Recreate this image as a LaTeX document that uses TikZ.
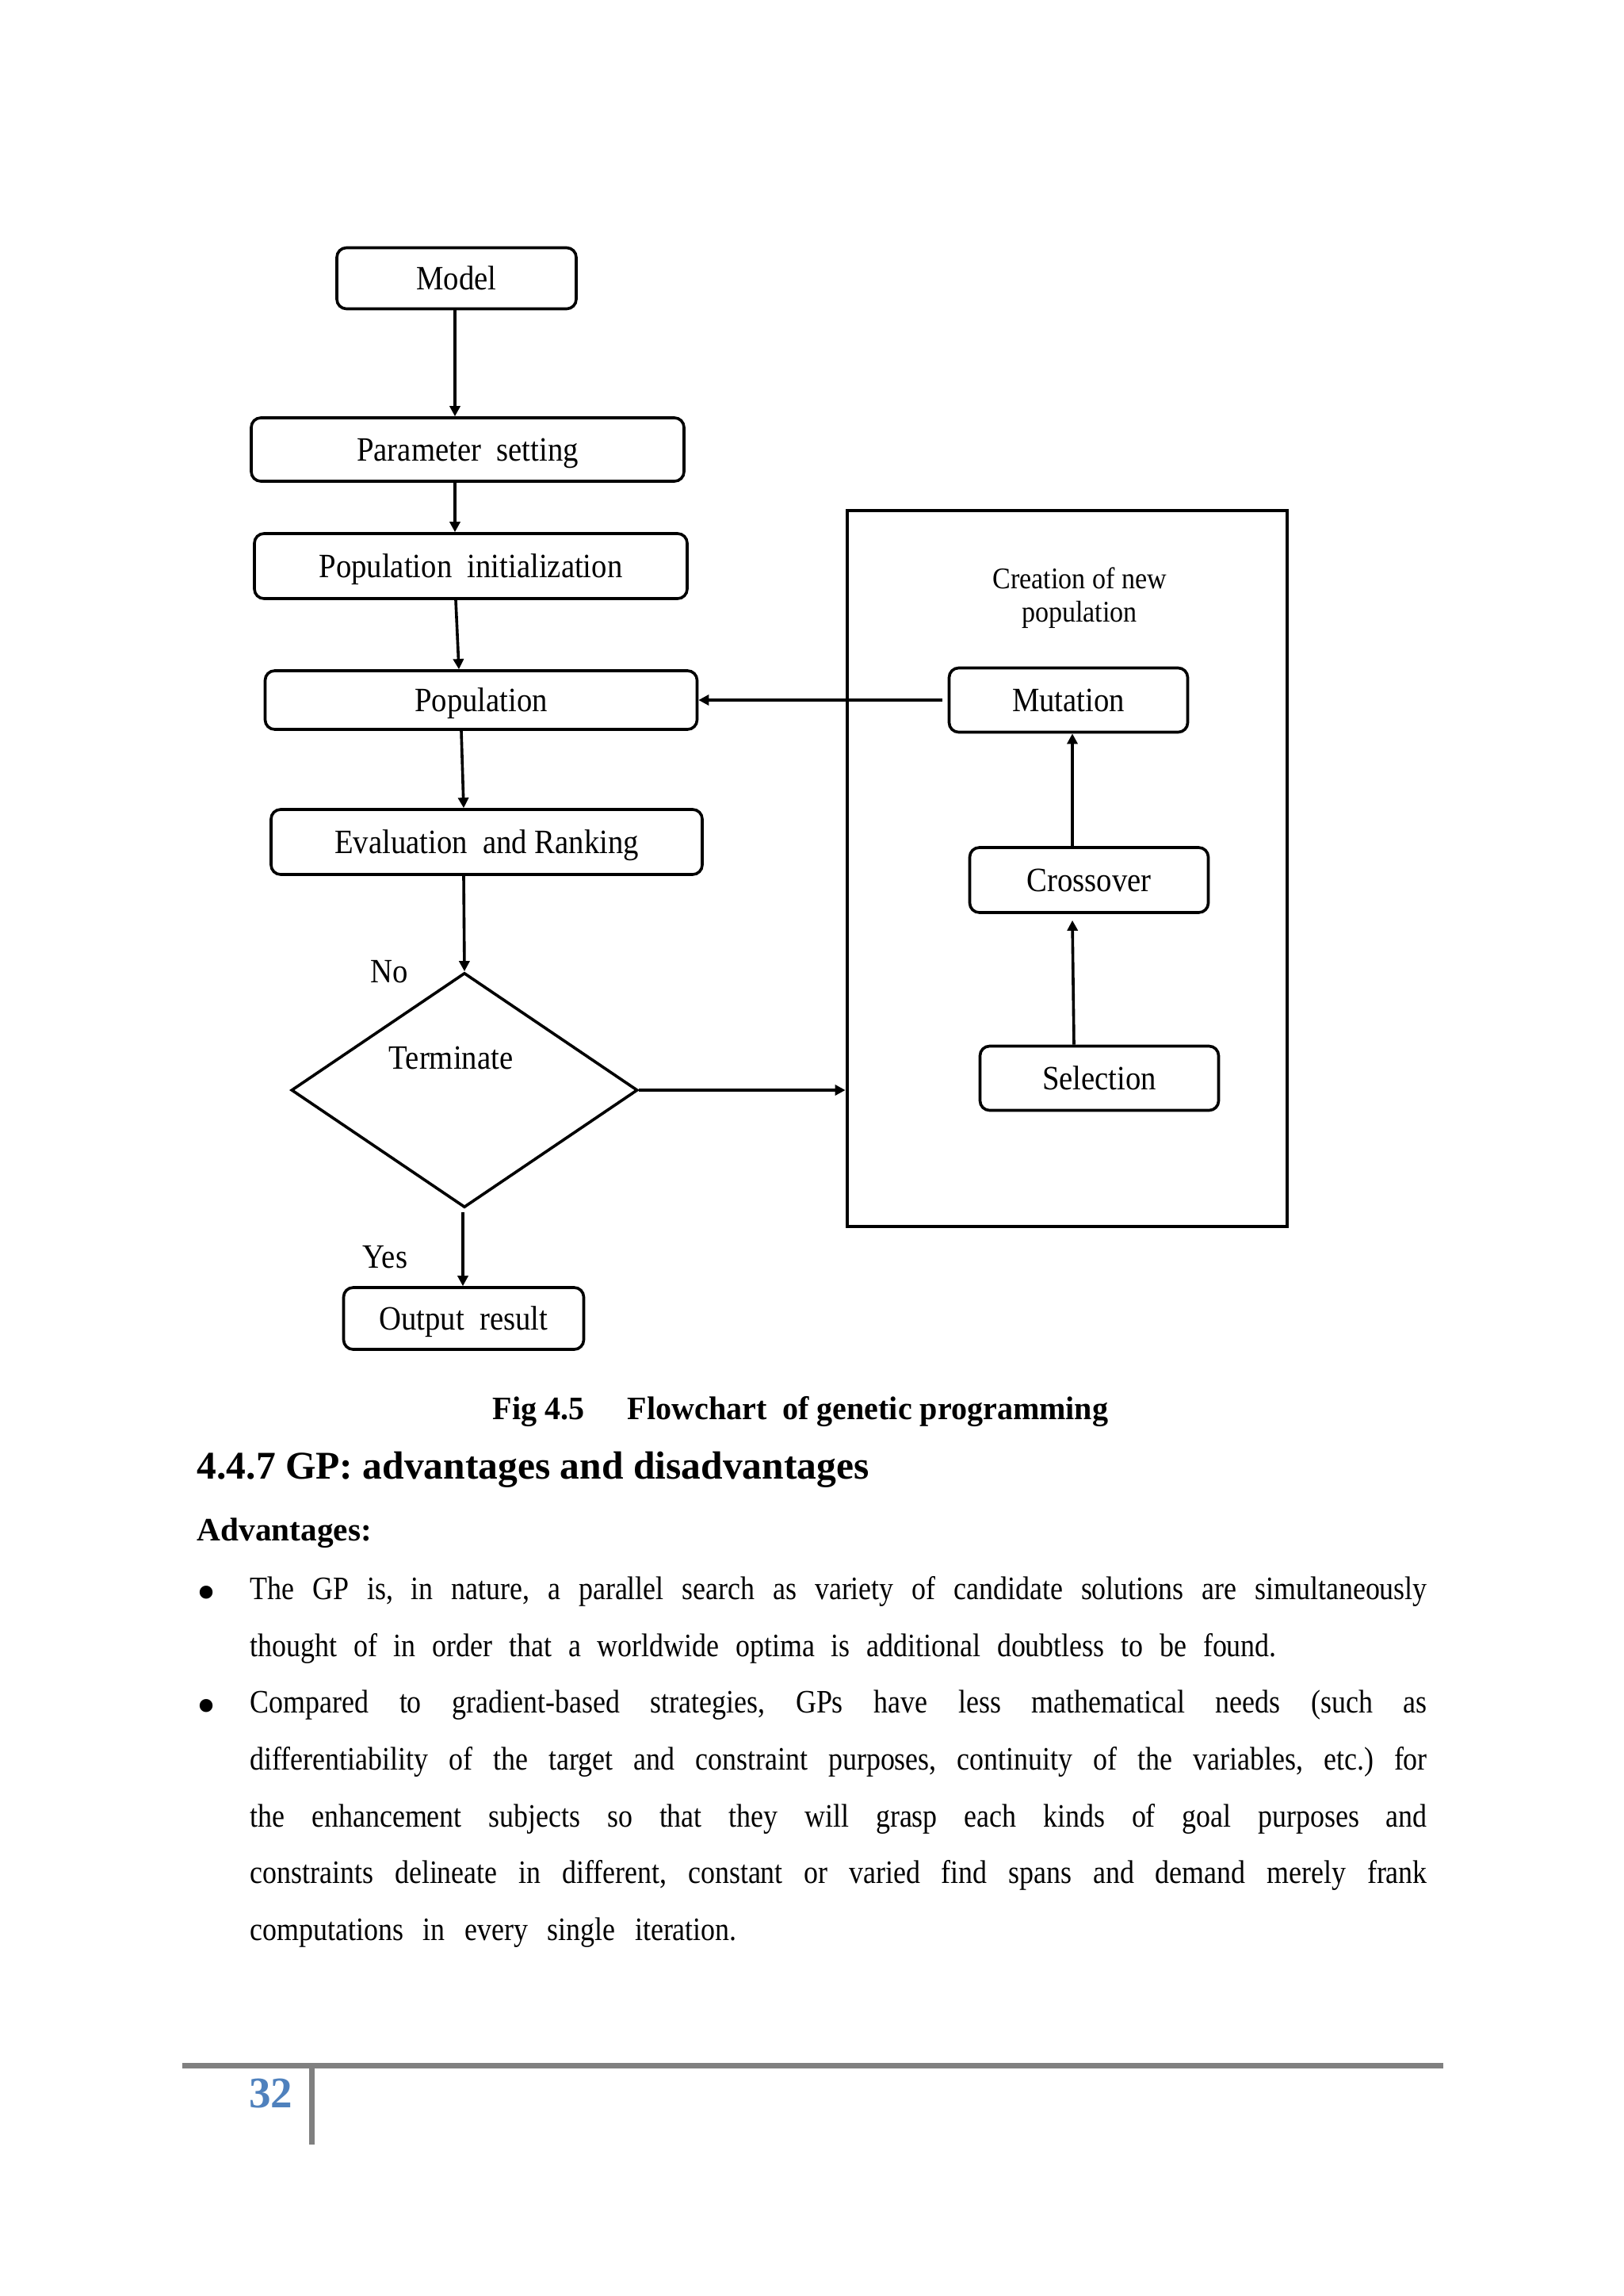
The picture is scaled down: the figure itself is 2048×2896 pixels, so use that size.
\documentclass[tikz,border=0pt]{standalone}
\usepackage{fontspec}
\setmainfont{Liberation Serif}
\newfontfamily\cond{Liberation Serif}[FakeStretch=0.9]
\newfontfamily\bodyfont{Liberation Serif}[FakeStretch=0.87]
\newfontfamily\capfont{Liberation Serif}[FakeStretch=0.97]
\usetikzlibrary{shapes.geometric,arrows.meta,calc}
\definecolor{pgblue}{HTML}{4F81BD}
\definecolor{rulegray}{HTML}{808080}
\def\PX{0.290662pt}
\newlength\pxlen
\setlength\pxlen{0.290662pt}
\frenchspacing
\tikzset{
  fbox/.style={draw, line width=1.05pt, rounded corners=3.5pt, inner sep=0pt,
    font=\cond\fontsize{12.5}{15}\selectfont, text height=8.3pt, text depth=0pt},
  arr/.style={line width=1.05pt, -{Triangle[length=3.8pt,width=3.8pt]}},
  lbl/.style={anchor=base, inner sep=0pt, font=\cond\fontsize{12.5}{15}\selectfont},
  small/.style={anchor=base, inner sep=0pt, font=\cond\fontsize{11}{13}\selectfont},
  body/.style={anchor=base west, inner sep=0pt, font=\bodyfont\fontsize{12}{14}\selectfont\frenchspacing},
  bul/.style={anchor=base west, inner sep=0pt, font=\fontsize{20}{22}\selectfont},
  hd/.style={anchor=base west, inner sep=0pt},
}
\begin{document}
\begin{tikzpicture}[x=\PX, y=-\PX]
\fill[white] (0,0) rectangle (2048,2896);
\useasboundingbox (0,0) rectangle (2048,2896);

% left column
\node[fbox, minimum width=302*\PX, minimum height=77*\PX] (model) at (576,351) {Model};
\node[fbox, minimum width=546*\PX, minimum height=80*\PX] (param) at (590,567) {Parameter\ \ setting};
\node[fbox, minimum width=546*\PX, minimum height=82*\PX] (popinit) at (594,714) {Population\ \ initialization};
\node[fbox, minimum width=545*\PX, minimum height=74*\PX] (pop) at (607,883) {Population};
\node[fbox, minimum width=544*\PX, minimum height=82*\PX] (eval) at (614,1062) {Evaluation\ \ and Ranking};
\node[draw, diamond, line width=1.05pt, inner sep=0pt, minimum width=437*\PX, minimum height=296*\PX] (dia) at (586,1375) {};
\node[lbl] (term) at (569,1348) {Terminate};
\node[lbl] (no) at (491,1239) {No};
\node[lbl] (yes) at (486,1599) {Yes};
\node[fbox, minimum width=303*\PX, minimum height=78*\PX] (out) at (585,1663) {Output\ \ result};

% right group
\node[draw, line width=1.4pt, inner sep=0pt, minimum width=555*\PX, minimum height=903*\PX] (grp) at (1346.5,1095.5) {};
\node[small] (cr1) at (1362,742) {Creation of new};
\node[small] (cr2) at (1362,784) {population};
\node[fbox, minimum width=301*\PX, minimum height=81*\PX] (mut) at (1348,883) {Mutation};
\node[fbox, minimum width=301*\PX, minimum height=82*\PX] (cross) at (1374,1110) {Crossover};
\node[fbox, minimum width=301*\PX, minimum height=81*\PX] (sel) at (1387,1360) {Selection};

% connectors
\draw[arr] ($(model.south)+(-2,0)$) -- ($(param.north)+(-16,0)$);
\draw[arr] ($(param.south)+(-16,0)$) -- ($(popinit.north)+(-20,0)$);
\draw[arr] ($(popinit.south)+(-19,0)$) -- ($(pop.north)+(-28,0)$);
\draw[arr] ($(pop.south)+(-25,0)$) -- ($(eval.north)+(-29,0)$);
\draw[arr] ($(eval.south)+(-29,0)$) -- (dia.north);
\draw[arr] ($(dia.south)+(-2,4)$) -- ($(out.north)+(-1,0)$);
\draw[arr] (dia.east) -- (dia.east -| grp.west);
\draw[arr] ($(mut.west)+(-7,0)$) -- (pop.east);
\draw[arr] ($(cross.north)+(-21,0)$) -- ($(mut.south)+(5,0)$);
\draw[arr] ($(sel.north)+(-32,0)$) -- ($(cross.south)+(-21,8)$);

% caption and heading
\node[hd, font=\capfont\bfseries\fontsize{12}{14}\selectfont] (fig) at (621,1790) {Fig 4.5};
\node[hd, font=\capfont\bfseries\fontsize{12}{14}\selectfont] (figt) at (791,1790) {Flowchart\ \ of genetic programming};
\node[hd, font=\bfseries\fontsize{14.4}{16}\selectfont] (head) at (248,1865) {4.4.7 GP: advantages and disadvantages};
\node[hd, font=\bfseries\fontsize{12}{14}\selectfont] (adv) at (248,1943) {Advantages:};

% body
\node[bul] (b1) at (248,2031) {•};
\node[body] (l1) at (315,2017) {\makebox[1485\pxlen][s]{The GP is, in nature, a parallel search as variety of candidate solutions are simultaneously}};
\node[body] (l2) at (315,2089) {\makebox[1295\pxlen][s]{thought of in order that a worldwide optima is additional doubtless to be found.}};
\node[bul] (b2) at (248,2174) {•};
\node[body] (l3) at (315,2160) {\makebox[1485\pxlen][s]{Compared to gradient-based strategies, GPs have less mathematical needs (such as}};
\node[body] (l4) at (315,2232) {\makebox[1485\pxlen][s]{differentiability of the target and constraint purposes, continuity of the variables, etc.) for}};
\node[body] (l5) at (315,2304) {\makebox[1485\pxlen][s]{the enhancement subjects so that they will grasp each kinds of goal purposes and}};
\node[body] (l6) at (315,2375) {\makebox[1485\pxlen][s]{constraints delineate in different, constant or varied find spans and demand merely frank}};
\node[body] (l7) at (315,2447) {\makebox[614\pxlen][s]{computations in every single iteration.}};

% footer
\fill[rulegray] (230,2602) rectangle (1821,2609);
\fill[rulegray] (390,2609) rectangle (397,2705);
\node[anchor=base east, inner sep=0pt, text=pgblue, font=\bfseries\fontsize{16}{18}\selectfont] (pgnum) at (370,2658) {32};
\end{tikzpicture}
\end{document}
